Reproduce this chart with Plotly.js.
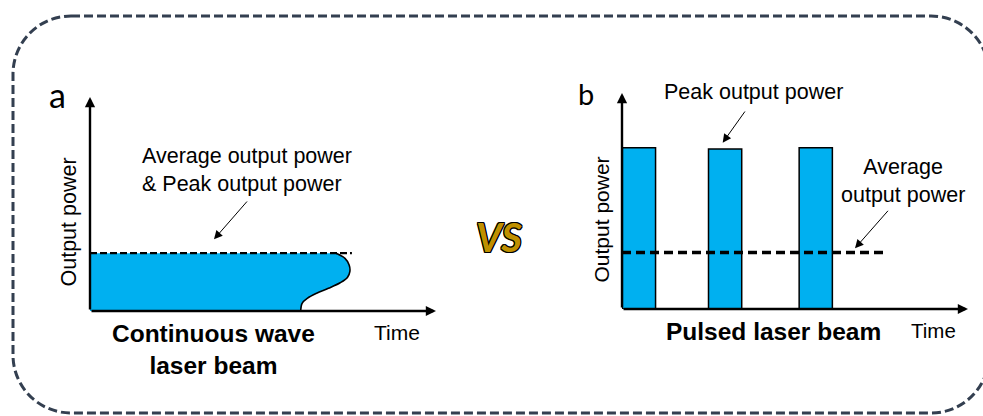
<!DOCTYPE html>
<html>
<head>
<meta charset="utf-8">
<script src="https://cdn.plot.ly/plotly-3.0.1.min.js"></script>
<style>
  html, body { margin: 0; padding: 0; background: #ffffff; }
  #chart { width: 983px; height: 416px; }
</style>
</head>
<body>
<div id="chart"></div>
<script>
// ---- Panel a: continuous wave laser (time and power in arbitrary units) ----
const cwLevel = 2.7;                 // constant power: average = peak
const cwEdgeTime  = [7.11, 7.37, 7.49, 7.51, 7.44, 7.23, 6.89, 6.55, 6.28, 6.13, 6.09];
const cwEdgePower = [2.70, 2.46, 2.15, 1.84, 1.57, 1.32, 1.06, 0.83, 0.59, 0.36, 0.00];
const cwAvgEnd = 7.57;               // where the dashed level line stops

// ---- Panel b: pulsed laser ----
const pulseCenters = [0.49, 2.98, 5.60];
const pulseWidth = 0.96;
const pulsePeaks = [7.47, 7.41, 7.47];
const pulsedAvg = 2.61;
const pulsedAvgEnd = 7.65;

// ---- Text ----
const labelA = 'a';
const labelB = 'b';
const yTitle = 'Output power';
const xTitle = 'Time';
const cwNote = 'Average output power<br>& Peak output power';
const cwCaption = '<b>Continuous wave<br>laser beam</b>';
const pulseCaption = '<b>Pulsed laser beam</b>';
const peakNote = 'Peak output power';
const avgNote = 'Average<br>output power';
const vsText = '<b><i>VS</i></b>';

const W = 983, H = 416;
const BLUE = '#00b0f0';
const FONT = 'Liberation Sans, Arial, sans-serif';

// pixel -> paper helpers for layout decoration
const px = v => v / W;
const py = v => 1 - v / H;

// CW filled region: rectangle up to the level, closed by the curved tail
const cwFillX = [0, 0].concat(cwEdgeTime);
const cwFillY = [0, cwLevel].concat(cwEdgePower);

const traces = [
  {
    type: 'scatter', mode: 'lines', xaxis: 'x', yaxis: 'y',
    x: cwFillX, y: cwFillY, fill: 'toself', fillcolor: BLUE,
    line: { width: 0, color: BLUE }, hoverinfo: 'skip'
  },
  {
    type: 'scatter', mode: 'lines', xaxis: 'x', yaxis: 'y',
    x: cwEdgeTime, y: cwEdgePower, line: { color: '#000', width: 1.6, shape: 'spline' },
    hoverinfo: 'skip'
  },
  {
    type: 'scatter', mode: 'lines', xaxis: 'x', yaxis: 'y',
    x: [0, cwAvgEnd], y: [cwLevel, cwLevel],
    line: { color: '#000', width: 2.3, dash: '7px,3px' }, hoverinfo: 'skip'
  },
  {
    type: 'bar', xaxis: 'x2', yaxis: 'y2',
    x: pulseCenters, y: pulsePeaks, width: pulseWidth,
    marker: { color: BLUE, line: { color: '#000', width: 1.5 } }, hoverinfo: 'skip'
  },
  {
    type: 'scatter', mode: 'lines', xaxis: 'x2', yaxis: 'y2',
    x: [0, pulsedAvgEnd], y: [pulsedAvg, pulsedAvg],
    line: { color: '#000', width: 3.5, dash: '9px,5px' }, hoverinfo: 'skip'
  }
];

// rounded dashed frame around both panels
function framePath(x0, y0, x1, y1, r) {
  const k = r * 0.5523;
  const P = (x, y) => px(x) + ',' + py(y);
  return 'M' + P(x0 + r, y0) +
    ' L' + P(x1 - r, y0) +
    ' C' + P(x1 - r + k, y0) + ' ' + P(x1, y0 + r - k) + ' ' + P(x1, y0 + r) +
    ' L' + P(x1, y1 - r) +
    ' C' + P(x1, y1 - r + k) + ' ' + P(x1 - r + k, y1) + ' ' + P(x1 - r, y1) +
    ' L' + P(x0 + r, y1) +
    ' C' + P(x0 + r - k, y1) + ' ' + P(x0, y1 - r + k) + ' ' + P(x0, y1 - r) +
    ' L' + P(x0, y0 + r) +
    ' C' + P(x0, y0 + r - k) + ' ' + P(x0 + r - k, y0) + ' ' + P(x0 + r, y0) + ' Z';
}

function axisArrow(xr, yr, x, y) {
  return {
    xref: xr, yref: yr, axref: xr, ayref: yr,
    x: x, y: y, ax: 0, ay: 0, text: '', showarrow: true,
    arrowhead: 2, arrowwidth: 2.4, arrowsize: 0.85, arrowcolor: '#000'
  };
}
function noteArrow(tipX, tipY, tailX, tailY) {
  return {
    xref: 'paper', yref: 'paper', x: px(tipX), y: py(tipY),
    ax: tailX - tipX, ay: tailY - tipY, text: '', showarrow: true,
    arrowhead: 2, arrowwidth: 1, arrowsize: 1.7, arrowcolor: '#000'
  };
}
function label(text, x, y, size, extra) {
  return Object.assign({
    xref: 'paper', yref: 'paper', x: px(x), y: py(y), text: text, showarrow: false,
    xanchor: 'center', yanchor: 'middle',
    font: { family: FONT, size: size, color: '#000' }
  }, extra || {});
}

const annotations = [
  axisArrow('x', 'y', 0, 10),
  axisArrow('x', 'y', 10, 0),
  axisArrow('x2', 'y2', 0, 10),
  axisArrow('x2', 'y2', 10, 0),
  noteArrow(214, 239.3, 248.3, 200),
  noteArrow(722.7, 142.7, 746, 110),
  noteArrow(855, 248.3, 889.3, 209.3),
  label(labelA, 57, 95, 34, { font: { family: 'Lato, sans-serif', size: 34, color: '#000' } }),
  label(labelB, 585.5, 94, 29, { font: { family: 'Lato, sans-serif', size: 29, color: '#000' } }),
  label(yTitle, 68.5, 222, 21.5, { textangle: -90 }),
  label(yTitle, 601, 219.5, 21, { textangle: -90 }),
  label(xTitle, 396.5, 332, 21),
  label(xTitle, 933, 330, 20.5),
  label(cwNote, 140, 170, 21.5, { xanchor: 'left', align: 'left' }),
  label(cwCaption, 213, 349, 24.5),
  label(pulseCaption, 773.5, 331, 24.5),
  label(peakNote, 753, 92, 21.5),
  label(avgNote, 903, 181, 21.5),
  label(vsText, 499, 237, 40, {
    font: {
      family: 'Lato, sans-serif', size: 40, color: '#bf9000',
      shadow: '1px 1px 0 #000, -1px -1px 0 #000, 1px -1px 0 #000, -1px 1px 0 #000, 0 1px 0 #000, 0 -1px 0 #000, 1px 0 0 #000, -1px 0 0 #000'
    }
  })
];

const hidden = { visible: false, fixedrange: true };
const layout = {
  width: W, height: H,
  margin: { l: 0, r: 0, t: 0, b: 0 },
  paper_bgcolor: '#ffffff', plot_bgcolor: 'rgba(0,0,0,0)',
  showlegend: false,
  bargap: 0,
  xaxis: Object.assign({ domain: [px(90), px(436)], range: [0, 10], anchor: 'y' }, hidden),
  yaxis: Object.assign({ domain: [py(311), py(97)], range: [0, 10], anchor: 'x' }, hidden),
  xaxis2: Object.assign({ domain: [px(622), px(968)], range: [0, 10], anchor: 'y2' }, hidden),
  yaxis2: Object.assign({ domain: [py(309), py(93)], range: [0, 10], anchor: 'x2' }, hidden),
  shapes: [{
    type: 'path', xref: 'paper', yref: 'paper', layer: 'below',
    path: framePath(13, 16, 989, 413, 58),
    line: { color: '#333f50', width: 3, dash: '9px,4px' }
  }],
  annotations: annotations
};

Plotly.newPlot('chart', traces, layout, { staticPlot: true, displayModeBar: false });
</script>
</body>
</html>
